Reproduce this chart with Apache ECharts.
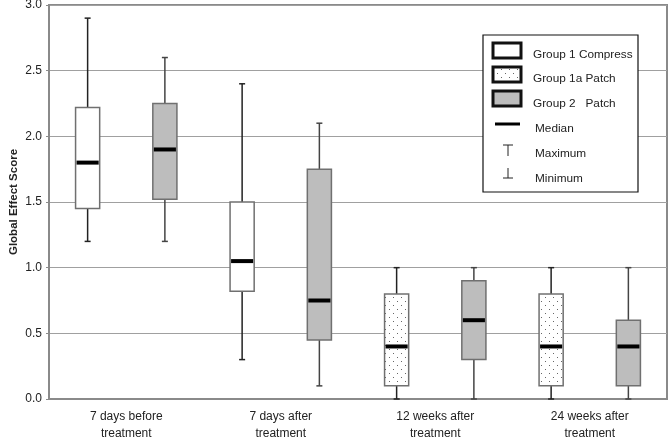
<!DOCTYPE html>
<html>
<head>
<meta charset="utf-8">
<script src="https://cdn.jsdelivr.net/npm/echarts@6/dist/echarts.min.js"></script>
<style>html,body{margin:0;padding:0;background:#fff}#c{width:670px;height:437px}</style>
</head>
<body>
<div id="c"></div>
<script>
// ---- data ----
const categories = ['7 days before\ntreatment', '7 days after\ntreatment', '12 weeks after\ntreatment', '24 weeks after\ntreatment'];
const yTicks = [0, 0.5, 1.0, 1.5, 2.0, 2.5, 3.0];
// [categoryIndex, min, Q1, median, Q3, max]
const group1Compress = [
  [0, 1.2, 1.45, 1.8, 2.22, 2.9],
  [1, 0.3, 0.82, 1.05, 1.5, 2.4]
];
const group1aPatch = [
  [2, 0.0, 0.1, 0.4, 0.8, 1.0],
  [3, 0.0, 0.1, 0.4, 0.8, 1.0]
];
const group2Patch = [
  [0, 1.2, 1.52, 1.9, 2.25, 2.6],
  [1, 0.1, 0.45, 0.75, 1.75, 2.1],
  [2, 0.0, 0.3, 0.6, 0.9, 1.0],
  [3, 0.0, 0.1, 0.4, 0.6, 1.0]
];

// dotted pattern
function makeDots() {
  const c = document.createElement('canvas');
  c.width = 8; c.height = 8;
  const g = c.getContext('2d');
  g.fillStyle = '#fff'; g.fillRect(0, 0, 8, 8);
  g.fillStyle = '#666';
  g.fillRect(1, 1, 1, 1);
  g.fillRect(5, 5, 1, 1);
  return c;
}
const dotPattern = { image: makeDots(), repeat: 'repeat' };

function boxRenderer(offset, fill, whiskerColor) {
  return function (params, api) {
    const ci = api.value(0);
    const band = api.size([1, 0])[0];
    const cx = api.coord([ci, 0])[0] + offset * band;
    const y = v => api.coord([ci, v])[1];
    const w = band * 0.156;
    const cap = 3;
    const yMin = y(api.value(1)), yQ1 = y(api.value(2)), yMed = y(api.value(3)),
          yQ3 = y(api.value(4)), yMax = y(api.value(5));
    const ls = { stroke: whiskerColor, lineWidth: 1.5 };
    return {
      type: 'group',
      children: [
        { type: 'line', shape: { x1: cx, y1: yMax, x2: cx, y2: yQ3 }, style: ls },
        { type: 'line', shape: { x1: cx, y1: yQ1, x2: cx, y2: yMin }, style: ls },
        { type: 'line', shape: { x1: cx - cap, y1: yMax, x2: cx + cap, y2: yMax }, style: ls },
        { type: 'line', shape: { x1: cx - cap, y1: yMin, x2: cx + cap, y2: yMin }, style: ls },
        { type: 'rect', shape: { x: cx - w / 2, y: yQ3, width: w, height: yQ1 - yQ3 },
          style: { fill: fill, stroke: '#707070', lineWidth: 1.5 } },
        { type: 'line', shape: { x1: cx - w / 2 + 1, y1: yMed, x2: cx + w / 2 - 1, y2: yMed },
          style: { stroke: '#000', lineWidth: 4 } }
      ]
    };
  };
}

const chart = echarts.init(document.getElementById('c'));
const FONT = 'Liberation Sans';
const lx = 483, ly = 35;
function legendText(t, x, y) {
  return { type: 'text', left: x, top: y, z: 11, style: { text: t, fill: '#222', font: '11.8px "' + FONT + '"', textVerticalAlign: 'middle' } };
}
chart.setOption({
  animation: false,
  grid: { left: 49, right: 3, top: 5, bottom: 38, containLabel: false, outerBoundsMode: 'none',
    show: true, borderColor: '#8a8a8a', borderWidth: 2, backgroundColor: 'transparent' },
  xAxis: {
    type: 'category', data: categories, boundaryGap: true,
    axisLine: { lineStyle: { color: '#8a8a8a', width: 2 } },
    axisTick: { show: false },
    axisLabel: { color: '#222', fontFamily: FONT, fontSize: 12, lineHeight: 17, margin: 9 }
  },
  yAxis: {
    type: 'value', min: 0, max: 3, interval: 0.5,
    name: 'Global Effect Score', nameLocation: 'middle', nameGap: 29, nameMoveOverlap: false,
    nameTextStyle: { color: '#222', fontFamily: FONT, fontSize: 11.5, fontWeight: 'bold' },
    axisLine: { show: true, lineStyle: { color: '#8a8a8a', width: 2 } },
    axisTick: { show: true, length: 3, lineStyle: { color: '#8a8a8a', width: 1 } },
    axisLabel: { color: '#222', fontFamily: FONT, fontSize: 12, margin: 7,
      formatter: v => yTicks.indexOf(v) >= 0 ? v.toFixed(1) : '' },
    splitLine: { lineStyle: { color: '#a0a0a0', width: 1 } }
  },
  series: [
    { name: 'Group 1 Compress', type: 'custom', renderItem: boxRenderer(-0.25, '#fff', '#222'),
      encode: { x: 0, y: [1, 2, 3, 4, 5] }, data: group1Compress, z: 3 },
    { name: 'Group 1a Patch', type: 'custom', renderItem: boxRenderer(-0.25, dotPattern, '#222'),
      encode: { x: 0, y: [1, 2, 3, 4, 5] }, data: group1aPatch, z: 3 },
    { name: 'Group 2   Patch', type: 'custom', renderItem: boxRenderer(0.25, '#bdbdbd', '#444'),
      encode: { x: 0, y: [1, 2, 3, 4, 5] }, data: group2Patch, z: 3 }
  ],
  graphic: [
    { type: 'rect', shape: { x: lx, y: ly, width: 155, height: 157 }, style: { fill: '#fff', stroke: '#111', lineWidth: 1.2 }, z: 10 },
    { type: 'rect', shape: { x: 493, y: 43, width: 28, height: 15 }, style: { fill: '#fff', stroke: '#111', lineWidth: 3 }, z: 11 },
    { type: 'rect', shape: { x: 493, y: 67, width: 28, height: 15 }, style: { fill: dotPattern, stroke: '#111', lineWidth: 3 }, z: 11 },
    { type: 'rect', shape: { x: 493, y: 91, width: 28, height: 15 }, style: { fill: '#bdbdbd', stroke: '#111', lineWidth: 3 }, z: 11 },
    { type: 'line', shape: { x1: 495, y1: 124, x2: 520, y2: 124 }, style: { stroke: '#000', lineWidth: 3 }, z: 11 },
    { type: 'line', shape: { x1: 508, y1: 145, x2: 508, y2: 156 }, style: { stroke: '#222', lineWidth: 1 }, z: 11 },
    { type: 'line', shape: { x1: 503, y1: 145, x2: 513, y2: 145 }, style: { stroke: '#222', lineWidth: 1 }, z: 11 },
    { type: 'line', shape: { x1: 508, y1: 168, x2: 508, y2: 178 }, style: { stroke: '#222', lineWidth: 1 }, z: 11 },
    { type: 'line', shape: { x1: 503, y1: 178, x2: 513, y2: 178 }, style: { stroke: '#222', lineWidth: 1 }, z: 11 },
    legendText('Group 1 Compress', 533, 49),
    legendText('Group 1a Patch', 533, 73),
    legendText('Group 2   Patch', 533, 98),
    legendText('Median', 535, 123),
    legendText('Maximum', 535, 148),
    legendText('Minimum', 535, 173)
  ]
});
</script>
</body>
</html>
